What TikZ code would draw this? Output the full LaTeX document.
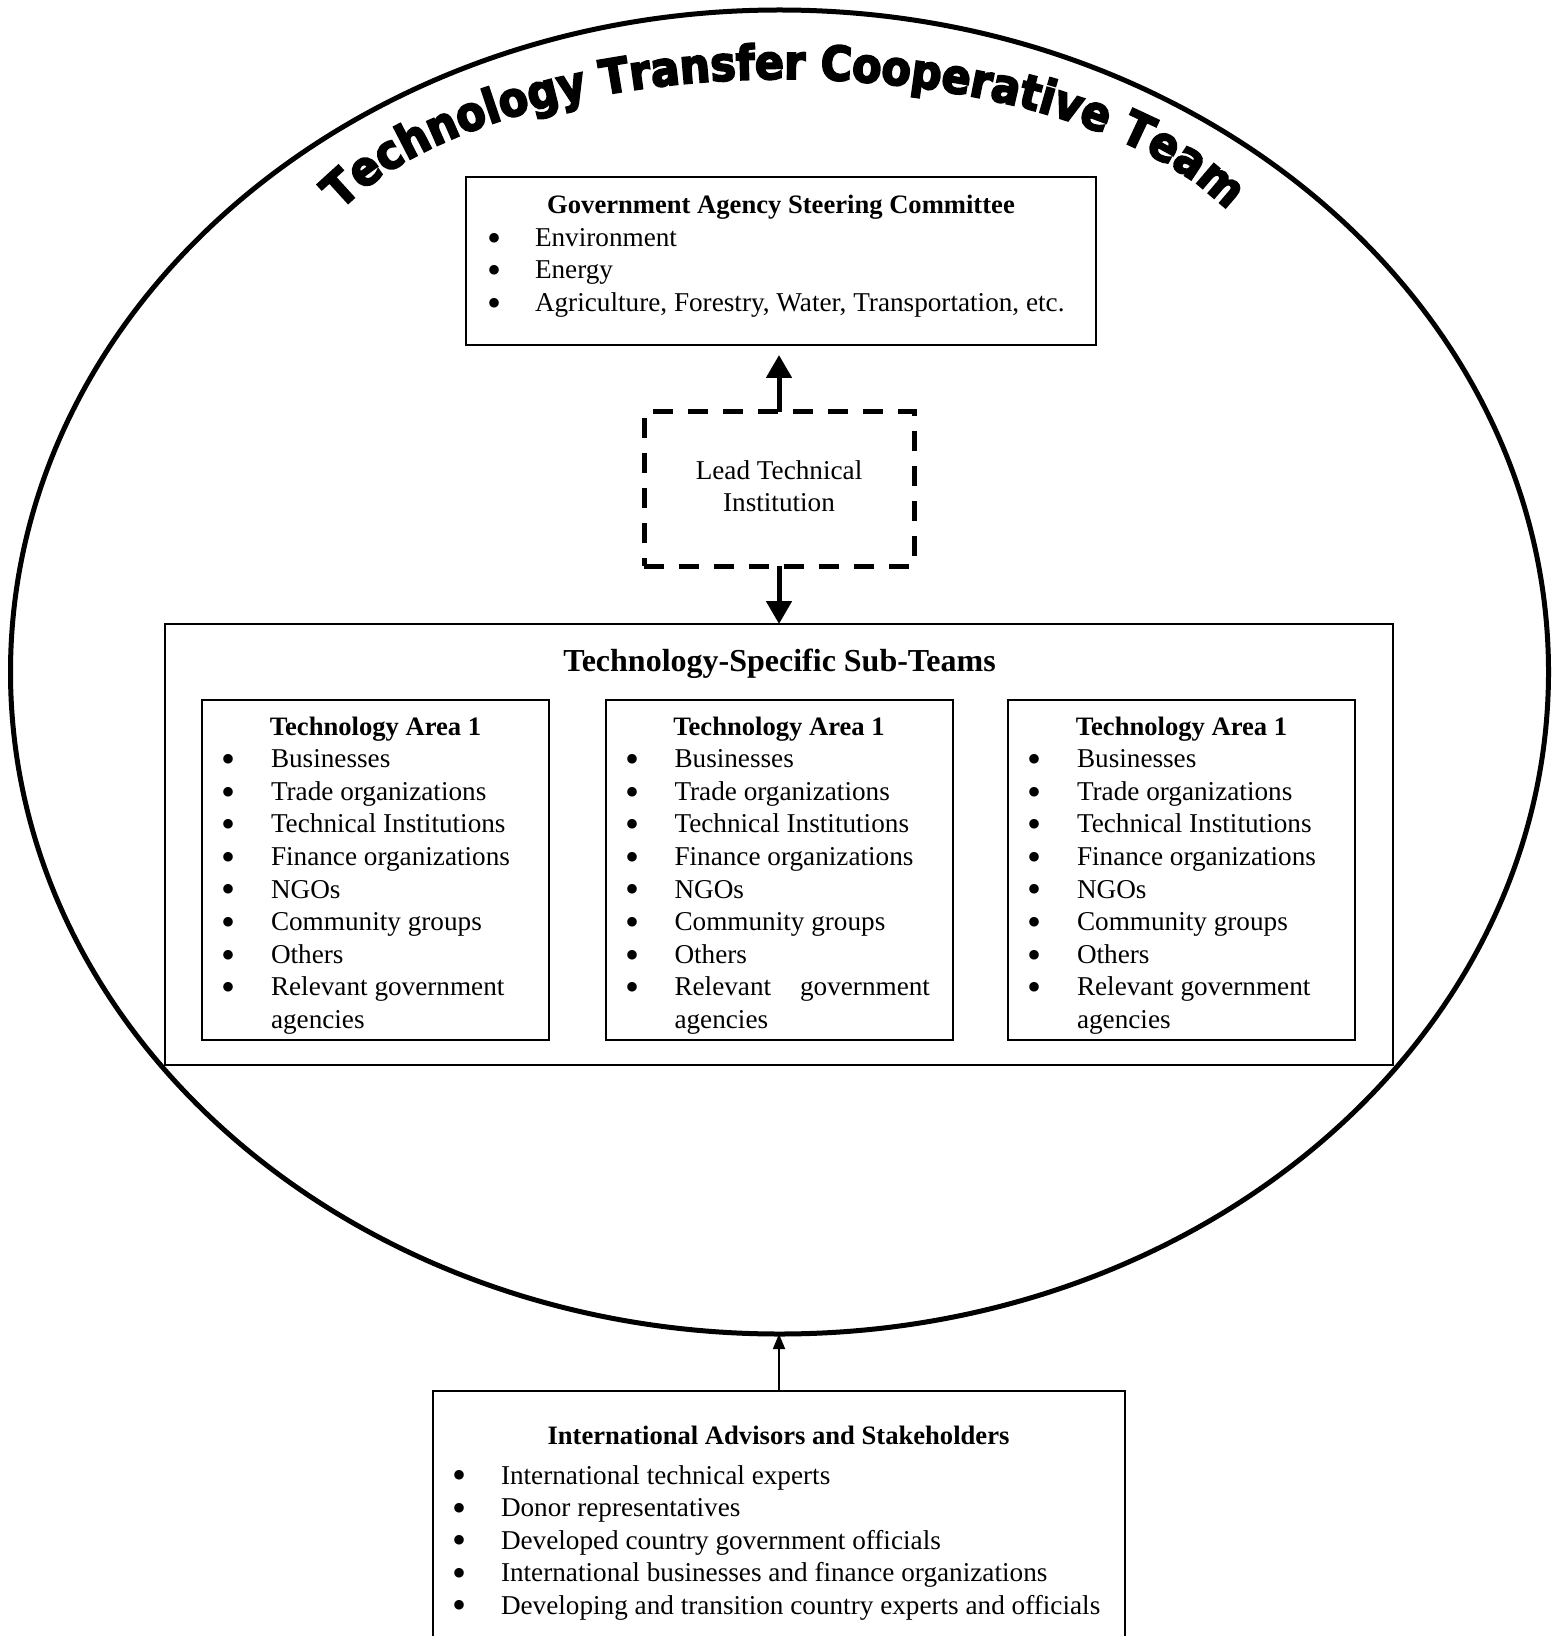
\documentclass[tikz,border=0pt]{standalone}
\usepackage{fontspec}
\setmainfont{Liberation Serif}
\newfontfamily\archfont{DejaVu Sans}[BoldFeatures={FakeBold=4,FakeStretch=0.9}]
\usetikzlibrary{arrows.meta,fit,shapes.geometric,decorations.text}

\newcommand\bodysize{\fontsize{13.6}{16.3}\selectfont}
\newcommand\archstyle{\archfont\bfseries\fontsize{23.7}{28}\selectfont}
\newcommand\listdot{\raisebox{-2.4pt}{\fontsize{20}{20}\selectfont\textbullet}}

\begin{document}
\begin{tikzpicture}[x=0.5pt,y=-0.5pt,
  every node/.style={inner sep=0pt,outer sep=0pt},
  txt/.style={font=\bodysize,anchor=base west},
  dot/.style={font=\bodysize,anchor=base},
  hd/.style={font=\fontsize{13.3}{16.3}\selectfont\bfseries,anchor=base},
  panel/.style={draw,line width=1pt,inner sep=0pt,fit={#1}},
  bigarrow/.style={line width=2.5pt,-{Triangle[width=12.5pt,length=11.5pt]}},
  smallarrow/.style={line width=0.9pt,-{Triangle[width=6pt,length=7.5pt]}},
]
\useasboundingbox (0,0) rectangle (1559,1636);
\clip (0,0) rectangle (1559,1636);

% outer team ellipse
\node[draw,ellipse,line width=2.5pt,minimum width=769pt,minimum height=662pt] (team) at (779.5,672) {};

% arched title
\path[decorate,decoration={text along path,text align=center,
  text={|\archstyle|Technology Transfer Cooperative Team}}]
  (307.4,260.8) arc[start angle=-170,end angle=-10,x radius=484,y radius=220];

% steering committee
\node[panel={(466,177)(1096,345)}] (gov) {};
\node[hd] (govtitle) at (781,214) {Government Agency Steering Committee};
\node[dot] (govb1) at (494,246.5) {\listdot};
\node[txt] (gov1) at (535,246.5) {Environment};
\node[dot] (govb2) at (494,279) {\listdot};
\node[txt] (gov2) at (535,279) {Energy};
\node[dot] (govb3) at (494,311.5) {\listdot};
\node[txt] (gov3) at (535,311.5) {Agriculture, Forestry, Water, Transportation, etc.};

% lead institution
\node[draw,line width=2.5pt,dash pattern=on 10pt off 7.5pt,fit={(644,412)(914,566)}] (lead) {};
\node[font=\bodysize,anchor=base] (lead1) at (779,480) {Lead Technical};
\node[font=\bodysize,anchor=base] (lead2) at (779,511) {Institution};

% sub-teams
\node[panel={(165,624)(1393,1065)},line width=0.8pt] (subteams) {};
\node[font=\fontsize{16}{19}\selectfont\bfseries,anchor=base] (subtitle) at (779.5,671) {Technology-Specific Sub-Teams};

\foreach \i/\cx in {1/375.5,2/779,3/1181.5}{
  \node[panel={(\cx-173.5,700)(\cx+173.5,1040)}] (area\i) {};
  \node[hd] (area\i-h) at (\cx,735) {Technology Area 1};
  \foreach \t [count=\k] in {Businesses,Trade organizations,Technical Institutions,Finance organizations,NGOs,Community groups,Others}{
    \node[dot] (area\i-b\k) at (\cx-147,735+32.6*\k) {\listdot};
    \node[txt] (area\i-t\k) at (\cx-104.5,735+32.6*\k) {\t};
  }
  \node[dot] (area\i-b8) at (\cx-147,995.8) {\listdot};
  \node[txt] (area\i-t9) at (\cx-104.5,1028.4) {agencies};
}
\node[txt] (area1-t8) at (271,995.8) {Relevant government};
\node[txt] (area2-t8) at (674.5,995.8) {Relevant};
\node[font=\bodysize,anchor=base east] (area2-t8b) at (930,995.8) {government};
\node[txt] (area3-t8) at (1077,995.8) {Relevant government};

% international advisors
\node[panel={(433,1391)(1125,1660)}] (intl) {};
\node[hd] (intltitle) at (778.5,1444.5) {International Advisors and Stakeholders};
\node[dot] (intlb1) at (459,1484) {\listdot};
\node[txt] (intl1) at (501,1484) {International technical experts};
\node[dot] (intlb2) at (459,1516.5) {\listdot};
\node[txt] (intl2) at (501,1516.5) {Donor representatives};
\node[dot] (intlb3) at (459,1549) {\listdot};
\node[txt] (intl3) at (501,1549) {Developed country government officials};
\node[dot] (intlb4) at (459,1581.5) {\listdot};
\node[txt] (intl4) at (501,1581.5) {International businesses and finance organizations};
\node[dot] (intlb5) at (459,1614) {\listdot};
\node[txt] (intl5) at (501,1614) {Developing and transition country experts and officials};

% connectors
\draw[bigarrow,shorten >=5pt] (lead.north) -- (lead.north |- gov.south);
\draw[bigarrow] (lead.south) -- (lead.south |- subteams.north);
\draw[smallarrow] (intl.north) -- (intl.north |- team.south);
\end{tikzpicture}
\end{document}
